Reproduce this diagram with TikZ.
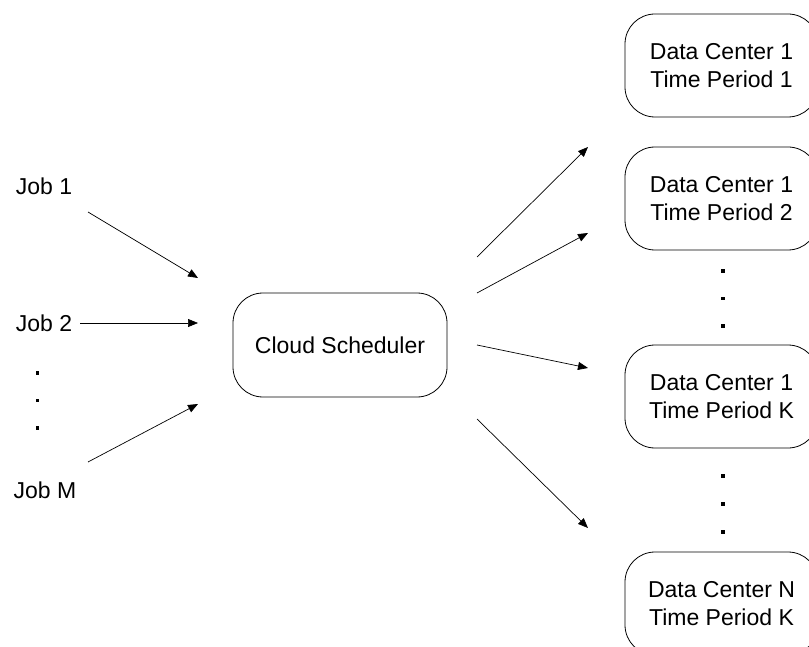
\documentclass[tikz,border=0pt]{standalone}
\usepackage{fontspec}
\setmainfont{Liberation Sans}
\usetikzlibrary{arrows.meta}
\begin{document}
\begin{tikzpicture}[x=1pt,y=-1pt,
  lbl/.style={font=\fontsize{23}{27.6}\selectfont, inner sep=0pt},
  rbox/.style={draw, line width=0.8pt, rounded corners=30pt, minimum width=193pt, minimum height=103pt, inner sep=0pt, align=center, font=\fontsize{23}{27.6}\selectfont},
  cbox/.style={draw, line width=0.8pt, rounded corners=30pt, minimum width=214pt, minimum height=104pt, inner sep=0pt, font=\fontsize{23}{27.6}\selectfont},
  arr/.style={line width=0.7pt, -{Triangle[length=10pt,width=8pt]}},
  dot/.style={fill=black, inner sep=0pt, minimum size=3.5pt, draw=none, rectangle}]
\useasboundingbox (0,0) rectangle (809,647);
\clip (0,0) rectangle (809,647);
% left labels
\node[lbl] (j1) at (44,186) {Job 1};
\node[lbl] (j2) at (44,323) {Job 2};
\node[lbl] (jm) at (45,490) {Job M};
\node[dot] (ld1) at (37.5,373) {};
\node[dot] (ld2) at (37.5,400.5) {};
\node[dot] (ld3) at (37.5,428) {};
% scheduler
\node[cbox] (cs) at (340,345) {Cloud Scheduler};
% right boxes
\node[rbox] (b1) at (721.5,65.5) {Data Center 1\\Time Period 1};
\node[rbox] (b2) at (721.5,198.5) {Data Center 1\\Time Period 2};
\node[rbox] (b3) at (721.5,396.5) {Data Center 1\\Time Period K};
\node[rbox] (b4) at (721.5,603.5) {Data Center N\\Time Period K};
\node[dot] (rd1) at (723,271) {};
\node[dot] (rd2) at (723,298.5) {};
\node[dot] (rd3) at (723,326) {};
\node[dot] (rd4) at (723,476) {};
\node[dot] (rd5) at (723,504) {};
\node[dot] (rd6) at (723,532) {};
% arrow endpoints
\coordinate (s1) at (88,212);
\coordinate (e1) at (198,278);
\coordinate (s2) at (80,323);
\coordinate (e2) at (198,323);
\coordinate (sm) at (88,462);
\coordinate (em) at (198,404);
\coordinate (oa) at (477,257);
\coordinate (ta) at (588,147);
\coordinate (ob) at (477,293);
\coordinate (tb) at (588,233);
\coordinate (oc) at (477,345);
\coordinate (tc) at (588,368);
\coordinate (od) at (477,419);
\coordinate (td) at (588,528);
\draw[arr] (s1) -- (e1);
\draw[arr] (s2) -- (e2);
\draw[arr] (sm) -- (em);
\draw[arr] (oa) -- (ta);
\draw[arr] (ob) -- (tb);
\draw[arr] (oc) -- (tc);
\draw[arr] (od) -- (td);
\end{tikzpicture}
\end{document}
